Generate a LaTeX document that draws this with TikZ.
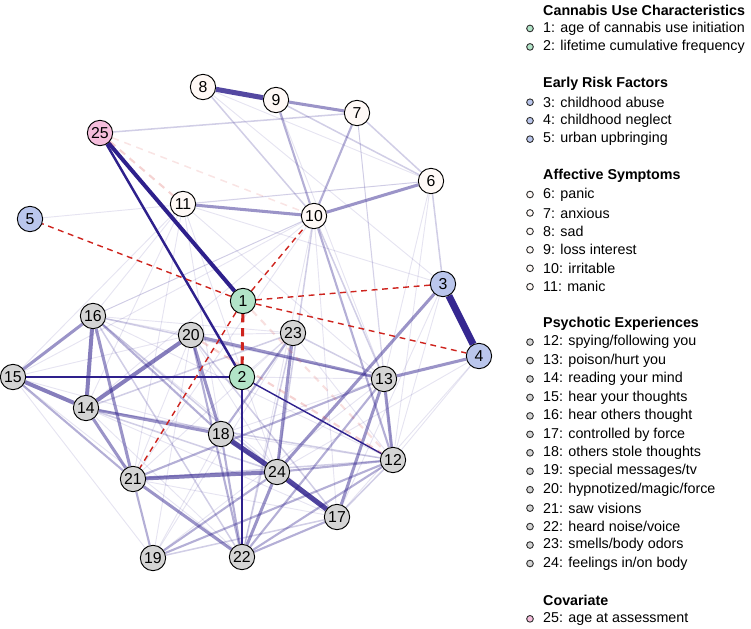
\documentclass[tikz,border=0pt]{standalone}
\usepackage{fontspec}
\setmainfont{Liberation Sans}
\usetikzlibrary{backgrounds}
\definecolor{posc}{RGB}{46,32,140}
\definecolor{negc}{RGB}{206,36,30}
\definecolor{cannc}{RGB}{178,228,200}
\definecolor{riskc}{RGB}{186,198,236}
\definecolor{affc}{RGB}{255,249,246}
\definecolor{psyc}{RGB}{212,212,212}
\definecolor{covc}{RGB}{245,190,220}
\begin{document}
\begin{tikzpicture}[x=0.03cm, y=-0.03cm,
    var/.style={circle, draw=black, line width=0.8pt, minimum size=0.76cm, inner sep=0pt, font=\fontsize{13.5}{14}\selectfont},
    pa/.style={draw=posc, line width=0.8pt, draw opacity=0.12},
    pb/.style={draw=posc, line width=1.3pt, draw opacity=0.22},
    pc/.style={draw=posc, line width=1.8pt, draw opacity=0.36},
    pd/.style={draw=posc, line width=2.6pt, draw opacity=0.48},
    pe/.style={draw=posc, line width=3.4pt, draw opacity=0.58},
    pf/.style={draw=posc, line width=4.3pt, draw opacity=0.82},
    pg/.style={draw=posc, line width=6pt, draw opacity=0.97},
    navy/.style={draw=posc, draw opacity=1},
    neg/.style={draw=negc, dashed, dash pattern=on 5pt off 4pt, line width=1.2pt},
    negfaint/.style={draw=negc, dashed, dash pattern=on 6pt off 5pt, line width=1.8pt, draw opacity=0.2},
    head/.style={anchor=west, inner xsep=0pt, font=\fontsize{12.2}{13}\selectfont\bfseries},
    item/.style={anchor=west, inner xsep=0pt, font=\fontsize{12.2}{13}\selectfont},
    dot/.style={circle, draw=black!80, line width=0.8pt, minimum size=0.2cm, inner sep=0pt}
]
\useasboundingbox (0,0) rectangle (751,629);

\node[var, fill=cannc] (v1) at (243,301) {1};
\node[var, fill=cannc] (v2) at (242,377) {2};
\node[var, fill=riskc] (v3) at (443,284) {3};
\node[var, fill=riskc] (v4) at (479,356) {4};
\node[var, fill=riskc] (v5) at (30,219) {5};
\node[var, fill=affc] (v6) at (431,181) {6};
\node[var, fill=affc] (v7) at (357,113) {7};
\node[var, fill=affc] (v8) at (203,87) {8};
\node[var, fill=affc] (v9) at (276,100) {9};
\node[var, fill=affc] (v10) at (314,216) {10};
\node[var, fill=affc] (v11) at (183,204) {11};
\node[var, fill=psyc] (v12) at (393,460) {12};
\node[var, fill=psyc] (v13) at (384,379) {13};
\node[var, fill=psyc] (v14) at (86,408) {14};
\node[var, fill=psyc] (v15) at (13,377) {15};
\node[var, fill=psyc] (v16) at (93,316) {16};
\node[var, fill=psyc] (v17) at (337,517) {17};
\node[var, fill=psyc] (v18) at (221,434) {18};
\node[var, fill=psyc] (v19) at (153,558) {19};
\node[var, fill=psyc] (v20) at (191,335) {20};
\node[var, fill=psyc] (v21) at (133,479) {21};
\node[var, fill=psyc] (v22) at (242,557) {22};
\node[var, fill=psyc] (v23) at (293,333) {23};
\node[var, fill=psyc] (v24) at (277,472) {24};
\node[var, fill=covc] (v25) at (100,133) {25};

\begin{scope}[on background layer]
\foreach \a/\b in {8/3, 8/6, 11/6, 11/3, 5/6, 11/16, 11/14, 11/21, 11/18, 11/24, 10/16, 10/15, 10/14, 10/21,
    10/22, 10/17, 7/12, 7/13, 6/13, 6/12, 3/12, 3/17, 4/12, 4/24, 4/17, 15/19, 15/18, 15/20, 16/20, 16/23,
    16/12, 16/17, 20/23, 20/21, 20/19, 20/24, 23/21, 23/19, 23/12, 18/13, 18/12, 18/19, 21/17, 14/22,
    14/17, 15/22, 19/13, 11/13, 9/13, 15/11, 16/10, 2/23, 2/13}
    \draw[pa] (v\a) -- (v\b);
\foreach \a/\b in {25/7, 8/10, 9/6, 7/6, 6/3, 14/24, 14/12, 16/24, 16/13, 23/13, 23/22, 18/17, 21/12, 12/17,
    19/17, 10/24, 10/13, 20/17, 14/23, 16/22}
    \draw[pb] (v\a) -- (v\b);
\foreach \a/\b in {9/10, 7/10, 10/12, 15/21, 19/21, 19/12, 22/12, 22/13, 22/17, 20/22, 18/22, 24/12,
    16/18, 19/24, 18/23, 21/13}
    \draw[pc] (v\a) -- (v\b);
\foreach \a/\b in {9/7, 11/10, 6/10, 13/17, 13/12, 23/24, 21/22, 4/13, 3/24, 20/18, 22/24, 16/21, 14/21,
    14/18, 20/13, 15/16}
    \draw[pd] (v\a) -- (v\b);
\foreach \a/\b in {15/14, 16/14, 20/14, 21/24}
    \draw[pe] (v\a) -- (v\b);
\draw[pf] (v8) -- (v9);
\draw[pf] (v18) -- (v24);
\draw[pf] (v24) -- (v17);
\draw[pg] (v3) -- (v4);
\draw[navy, line width=3.4pt] (v25) -- (v1);
\draw[navy, line width=2.1pt] (v25) -- (v2);
\draw[navy, line width=1.2pt] (v2) -- (v15);
\draw[navy, line width=1.2pt] (v2) -- (v22);
\draw[navy, line width=1.2pt] (v2) -- (v12);
\draw[negfaint] (v25) -- (v11);
\draw[negfaint, draw opacity=0.12, line width=1.3pt] (v25) -- (v10);
\draw[negfaint] (v20) -- (v12);
\draw[negfaint, draw opacity=0.14] (v1) -- (v12);
\draw[neg] (v1) -- (v5);
\draw[neg] (v1) -- (v3);
\draw[neg] (v1) -- (v4);
\draw[neg] (v1) -- (v10);
\draw[neg] (v1) -- (v21);
\draw[neg, line width=2.6pt, dash pattern=on 7pt off 5pt] (v1) -- (v2);
\end{scope}

\node[head] (hcan) at (543,10) {Cannabis Use Characteristics};
\node[head] (hrisk) at (543,83.8) {Early Risk Factors};
\node[head] (haff) at (543,176) {Affective Symptoms};
\node[head] (hpsy) at (543,323.7) {Psychotic Experiences};
\node[head] (hcov) at (543,600.4) {Covariate};
\foreach \r/\col/\txt in {1/cannc/{1: age of cannabis use initiation}, 2/cannc/{2: lifetime cumulative frequency},
    5/riskc/{3: childhood abuse}, 6/riskc/{4: childhood neglect}, 7/riskc/{5: urban upbringing},
    10/affc/{6: panic}, 11/affc/{7: anxious}, 12/affc/{8: sad}, 13/affc/{9: loss interest},
    14/affc/{10: irritable}, 15/affc/{11: manic},
    18/psyc/{12: spying/following you}, 19/psyc/{13: poison/hurt you}, 20/psyc/{14: reading your mind},
    21/psyc/{15: hear your thoughts}, 22/psyc/{16: hear others thought}, 23/psyc/{17: controlled by force},
    24/psyc/{18: others stole thoughts}, 25/psyc/{19: special messages/tv},
    26/psyc/{20: hypnotized/magic/force}, 27/psyc/{21: saw visions}, 28/psyc/{22: heard noise/voice},
    29/psyc/{23: smells/body odors}, 30/psyc/{24: feelings in/on body},
    33/covc/{25: age at assessment}}{
    \node[dot, fill=\col] (d\r) at (530,10+\r*18.45) {};
    \node[item] (t\r) at (543,10+\r*18.45) {\txt};
}
\end{tikzpicture}
\end{document}
